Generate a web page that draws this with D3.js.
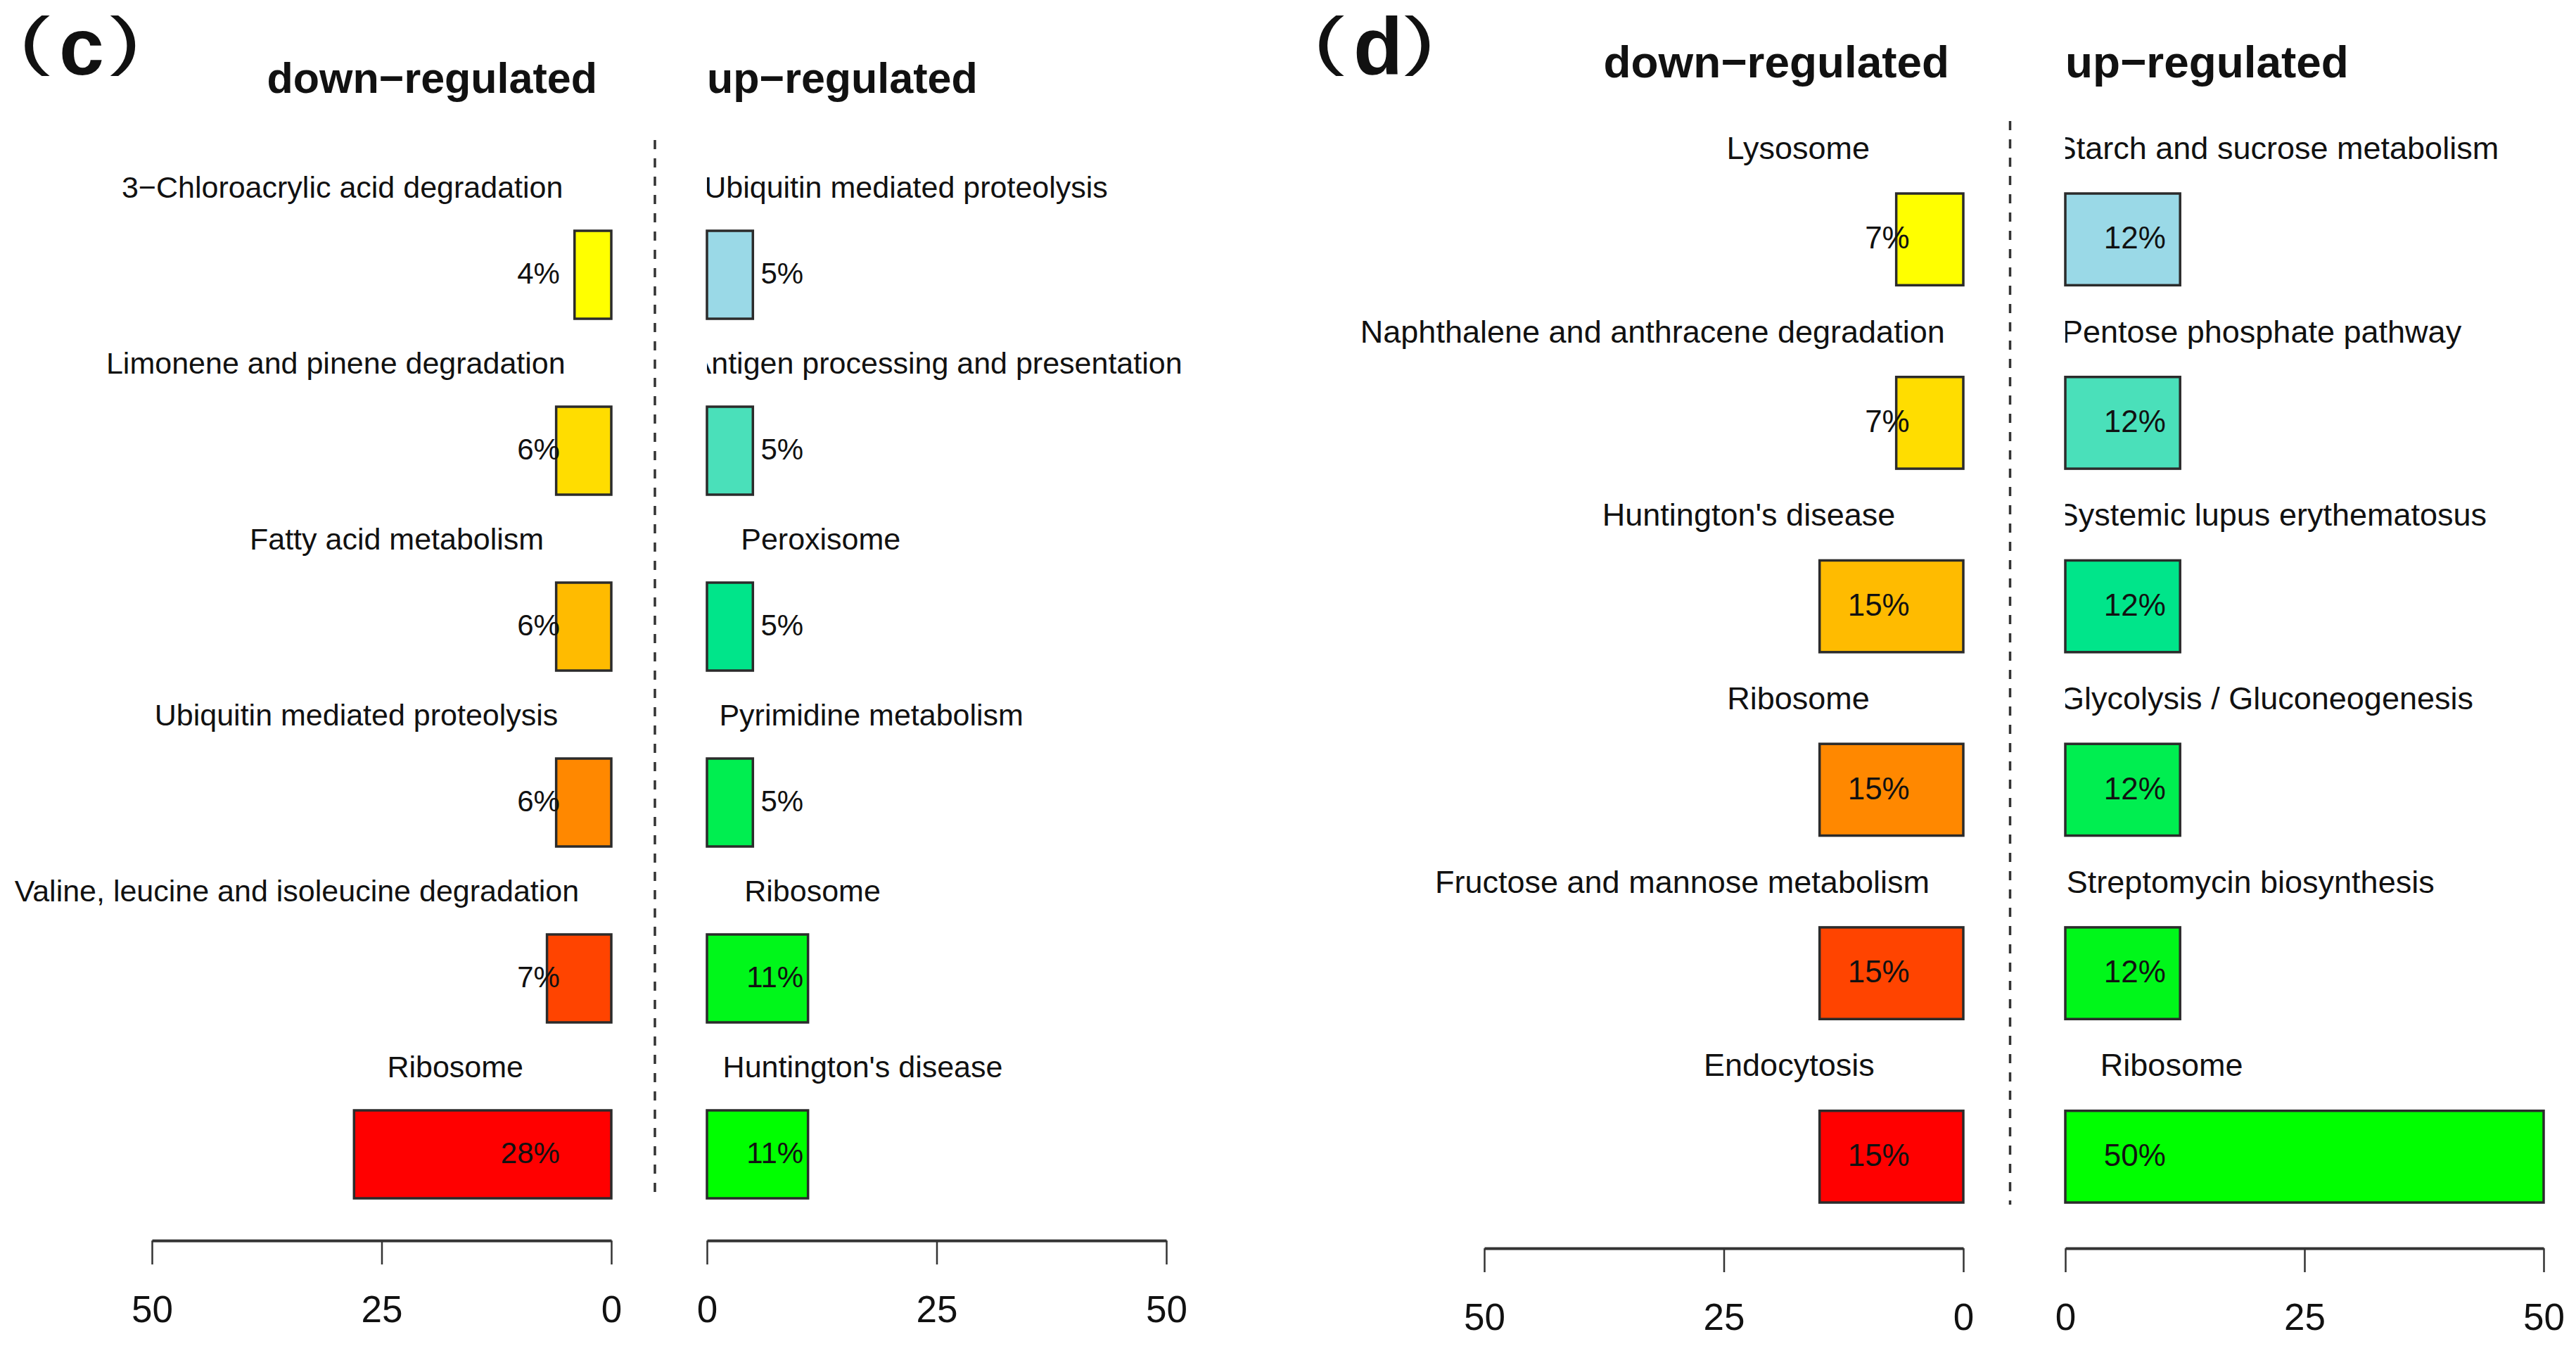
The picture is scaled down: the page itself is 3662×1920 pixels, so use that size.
<!DOCTYPE html>
<html>
<head>
<meta charset="utf-8">
<script src="https://cdn.jsdelivr.net/npm/d3@7"></script>
<style>
  body { margin: 0; background: #fff; }
  svg { display: block; }
  text { font-family: "Liberation Sans", Arial, sans-serif; fill: #111; }
</style>
</head>
<body>
<script>
// panel (c)
const cDownTerms = ['3−Chloroacrylic acid degradation', 'Limonene and pinene degradation', 'Fatty acid metabolism',
  'Ubiquitin mediated proteolysis', 'Valine, leucine and isoleucine degradation', 'Ribosome']
const cDownValues = [4, 6, 6, 6, 7, 28]
const cUpTerms = ['Ubiquitin mediated proteolysis', 'Antigen processing and presentation', 'Peroxisome',
  'Pyrimidine metabolism', 'Ribosome', "Huntington's disease"]
const cUpValues = [5, 5, 5, 5, 11, 11]

// panel (d)
const dDownTerms = ['Lysosome', 'Naphthalene and anthracene degradation', "Huntington's disease",
  'Ribosome', 'Fructose and mannose metabolism', 'Endocytosis']
const dDownValues = [7, 7, 15, 15, 15, 15]
const dUpTerms = ['Starch and sucrose metabolism', 'Pentose phosphate pathway', 'Systemic lupus erythematosus',
  'Glycolysis / Gluconeogenesis', 'Streptomycin biosynthesis', 'Ribosome']
const dUpValues = [12, 12, 12, 12, 12, 50]

const axisTicks = [0, 25, 50]
const downColors = ['#FFFF00', '#FFDD00', '#FFBB00', '#FF8800', '#FF4400', '#FF0000']
const upColors = ['#9AD9E7', '#4AE0BA', '#00E58A', '#00EE50', '#00F71A', '#00FF00']

const W = 3662, H = 1920

const svg = d3.select('body').append('svg')
  .attr('width', W)
  .attr('height', H)

const defs = svg.append('defs')

const drawPanel = (p) => {
  const g = svg.append('g')
  const s = p.scale

  const xDown = d3.scaleLinear().domain([0, 50]).range([p.downZero, p.downFifty])
  const xUp = d3.scaleLinear().domain([0, 50]).range([p.upZero, p.upFifty])
  const y = d3.scaleBand().domain(d3.range(p.downValues.length)).range([p.barTop, p.barBottom])
    .paddingInner(0.5).paddingOuter(0)

  // panel letter, e.g. (c)
  g.append('text')
    .attr('transform', `translate(${p.letterX - 57}, 89) scale(1.45, 1)`)
    .style('font-size', '92px')
    .text('(')
  g.append('text')
    .attr('x', p.letterX).attr('y', 106)
    .style('font-weight', 'bold').style('font-size', '115px')
    .text(p.letter)
  g.append('text')
    .attr('transform', `translate(${p.letterX + 72}, 89) scale(1.45, 1)`)
    .style('font-size', '92px')
    .text(')')

  g.append('text')
    .attr('x', p.downZero - 20).attr('y', p.titleBase)
    .attr('text-anchor', 'end')
    .style('font-weight', 'bold').style('font-size', `${61 * s}px`)
    .text('down−regulated')
  g.append('text')
    .attr('x', p.upZero).attr('y', p.titleBase)
    .style('font-weight', 'bold').style('font-size', `${61 * s}px`)
    .text('up−regulated')

  // dashed separator
  const mid = (p.downZero + p.upZero) / 2 - 6
  g.append('line')
    .attr('x1', mid).attr('x2', mid)
    .attr('y1', p.dashTop).attr('y2', p.dashBottom)
    .attr('stroke', '#333').attr('stroke-width', 3.5)
    .attr('stroke-dasharray', '13,13')

  // bars
  g.selectAll('rect.down')
    .data(p.downValues)
    .join('rect')
    .attr('class', 'down')
    .attr('x', d => xDown(d))
    .attr('y', (d, i) => y(i))
    .attr('width', d => xDown(0) - xDown(d))
    .attr('height', y.bandwidth())
    .attr('fill', (d, i) => downColors[i])
    .attr('stroke', '#2b2b2b').attr('stroke-width', 3.5)

  g.selectAll('rect.up')
    .data(p.upValues)
    .join('rect')
    .attr('class', 'up')
    .attr('x', xUp(0))
    .attr('y', (d, i) => y(i))
    .attr('width', d => xUp(d) - xUp(0))
    .attr('height', y.bandwidth())
    .attr('fill', (d, i) => upColors[i])
    .attr('stroke', '#2b2b2b').attr('stroke-width', 3.5)

  // percent labels
  g.selectAll('text.pd')
    .data(p.downValues)
    .join('text')
    .attr('class', 'pd')
    .attr('x', xDown(5.6))
    .attr('y', (d, i) => y(i) + y.bandwidth() / 2)
    .attr('dy', '0.3em')
    .attr('text-anchor', 'end')
    .style('font-size', `${42 * s}px`)
    .text(d => d + '%')

  g.selectAll('text.pu')
    .data(p.upValues)
    .join('text')
    .attr('class', 'pu')
    .attr('x', xUp(10.5))
    .attr('y', (d, i) => y(i) + y.bandwidth() / 2)
    .attr('dy', '0.3em')
    .attr('text-anchor', 'end')
    .style('font-size', `${42 * s}px`)
    .text(d => d + '%')

  // term labels
  g.selectAll('text.td')
    .data(p.downTerms)
    .join('text')
    .attr('class', 'td')
    .attr('y', (d, i) => y(i) - 47 * s)
    .style('font-size', `${43 * s}px`)
    .text(d => d)
    .attr('x', function () { return xDown(p.downAnchor) - p.downAdj * this.getComputedTextLength() })

  const clipId = 'clip-' + p.letter
  defs.append('clipPath').attr('id', clipId)
    .append('rect')
    .attr('x', xUp(0)).attr('y', 0)
    .attr('width', 900).attr('height', H)

  g.append('g')
    .attr('clip-path', `url(#${clipId})`)
    .selectAll('text.tu')
    .data(p.upTerms)
    .join('text')
    .attr('class', 'tu')
    .attr('y', (d, i) => y(i) - 47 * s)
    .style('font-size', `${43 * s}px`)
    .text(d => d)
    .attr('x', function () { return xUp(p.upAnchor) - 0.15 * this.getComputedTextLength() })

  // axes
  const styleAxis = (sel) => {
    sel.select('.domain').attr('stroke', '#333').attr('stroke-width', 4)
    sel.selectAll('.tick line').attr('stroke', '#333').attr('stroke-width', 2.5)
    sel.selectAll('.tick text')
      .style('font-family', '"Liberation Sans", Arial, sans-serif')
      .style('font-size', '53px').attr('fill', '#111')
  }

  g.append('g')
    .attr('transform', `translate(0, ${p.axisY})`)
    .call(d3.axisBottom(xDown).tickValues(axisTicks).tickSize(34).tickSizeOuter(0).tickPadding(44))
    .call(styleAxis)
  g.append('g')
    .attr('transform', `translate(0, ${p.axisY})`)
    .call(d3.axisBottom(xUp).tickValues(axisTicks).tickSize(34).tickSizeOuter(0).tickPadding(44))
    .call(styleAxis)
}

drawPanel({
  letter: 'c', letterX: 84, scale: 1,
  titleBase: 132,
  downTerms: cDownTerms, downValues: cDownValues,
  upTerms: cUpTerms, upValues: cUpValues,
  downZero: 869, downFifty: 216, upZero: 1005, upFifty: 1658,
  downAnchor: 11.5, downAdj: 0.87, upAnchor: 6.3,
  barTop: 328, barBottom: 1703,
  dashTop: 199, dashBottom: 1705,
  axisY: 1763
})

drawPanel({
  letter: 'd', letterX: 1924, scale: 1.047,
  titleBase: 110,
  downTerms: dDownTerms, downValues: dDownValues,
  upTerms: dUpTerms, upValues: dUpValues,
  downZero: 2791, downFifty: 2110, upZero: 2936, upFifty: 3616,
  downAnchor: 12.3, downAdj: 0.83, upAnchor: 5.9,
  barTop: 275, barBottom: 1709,
  dashTop: 172, dashBottom: 1712,
  axisY: 1774
})
</script>
</body>
</html>
